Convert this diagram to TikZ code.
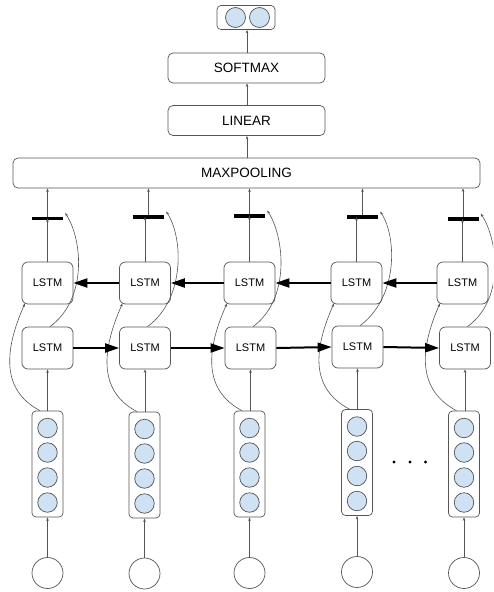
\documentclass[tikz,border=0pt]{standalone}
\usepackage{fontspec}
\setmainfont{Liberation Sans}
\usetikzlibrary{arrows.meta}
\definecolor{ln}{HTML}{555555}
\definecolor{cfill}{HTML}{CFE2F3}
\begin{document}
\begin{tikzpicture}[x=1pt,y=-1pt,
  lstm/.style={draw=ln, rounded corners=6pt, line width=0.7pt, minimum width=51pt, minimum height=42pt, inner sep=0pt, font=\fontsize{11}{13}\selectfont},
  layer/.style={draw=ln, rounded corners=5pt, line width=0.7pt, minimum height=30pt, inner sep=0pt, font=\fontsize{13.5}{15}\selectfont},
  vecbox/.style={draw=ln, rounded corners=4pt, line width=0.7pt, minimum width=31pt, minimum height=106pt, inner sep=0pt},
  unit/.style={circle, draw=ln, fill=cfill, line width=0.7pt, minimum size=19.5pt, inner sep=0pt},
  inp/.style={circle, draw=ln, line width=0.7pt, minimum size=31pt, inner sep=0pt},
  barnode/.style={fill=black, minimum width=31pt, minimum height=3.5pt, inner sep=0pt},
  thin arrow/.style={draw=ln, line width=0.6pt, -{Stealth[length=3.5pt,width=2.6pt]}},
  thick arrow/.style={draw=black, line width=2pt, -{Triangle[length=14pt,width=9pt]}},
  dotnode/.style={circle, fill=black, minimum size=3.2pt, inner sep=0pt}]
\useasboundingbox (0,0) rectangle (493,592);
\clip (0,0) rectangle (493,592);
\fill[white] (0,0) rectangle (493,592);

% top layers
\node[draw=ln, rounded corners=4pt, line width=0.7pt, minimum width=58pt, minimum height=24pt, inner sep=0pt] (out) at (246,17.5) {};
\node[unit, minimum size=20pt] (o1) at (235.5,17.5) {};
\node[unit, minimum size=20pt] (o2) at (259.5,17.5) {};
\node[layer, minimum width=157pt] (soft) at (246.5,68) {SOFTMAX};
\node[layer, minimum width=157pt] (lin) at (246.5,120.5) {LINEAR};
\node[layer, minimum width=467pt] (mp) at (246.5,173) {MAXPOOLING};
\draw[thin arrow] ([xshift=0.5pt]soft.north) -- ([xshift=0.5pt]soft.north |- out.south);
\draw[thin arrow] ([xshift=0.5pt]lin.north) -- ([xshift=0.5pt]lin.north |- soft.south);
\draw[thin arrow] ([xshift=0.5pt]mp.north) -- ([xshift=0.5pt]mp.north |- lin.south);

% columns
\foreach \i/\tx/\bx/\bxx/\by/\byy/\vx/\vy/\iy in {
  1/47.5/47.5/47.5/218.5/348/47.5/464/573,
  2/145/145/148.5/217/348/144.5/465/573.5,
  3/249.5/250.5/249.5/216/348/249.5/464/573,
  4/356.5/357.5/362.5/217/347/357/462.5/572,
  5/462.5/465/463/219/348/464/464/573}{
  \node[lstm] (t\i) at (\tx,283) {LSTM};
  \node[lstm] (b\i) at (\bx,\byy) {LSTM};
  \node[barnode] (bar\i) at (\bxx,\by) {};
  \node[vecbox] (v\i) at (\vx,\vy) {};
  \node[unit] (u\i a) at (\vx,\vy-36) {};
  \node[unit] (u\i b) at (\vx,\vy-11.5) {};
  \node[unit] (u\i c) at (\vx,\vy+13.5) {};
  \node[unit] (u\i d) at (\vx,\vy+38.5) {};
  \node[inp] (in\i) at (\vx,\iy) {};
  % input to vector
  \draw[thin arrow] (in\i.north) -- (in\i.north |- v\i.south);
  % vector to forward LSTM
  \draw[thin arrow] (v\i.north -| b\i.south) -- (b\i.south);
  % vector to backward LSTM (curve)
  \draw[thin arrow] ([xshift=-7.5pt]v\i.north) .. controls +(-40,-21) and +(-20,45) .. ([xshift=-22.5pt,yshift=1pt]t\i.south);
  % backward LSTM to bar
  \draw[thin arrow] (t\i.north) -- ([yshift=2pt]t\i.north |- bar\i.south);
  % forward LSTM to bar (curve)
  \draw[thin arrow] ([xshift=2.5pt]b\i.north) .. controls +(38,-28) and +(17,26) .. ([xshift=2pt,yshift=5.5pt]bar\i.east);
  % bar to maxpool
  \draw[thin arrow] (bar\i.north) -- (bar\i.north |- mp.south);
}

% recurrent arrows
\draw[thick arrow] (b1.east) -- (b2.west);
\draw[thick arrow] (b2.east) -- (b3.west);
\draw[thick arrow] (b3.east) -- (b4.west);
\draw[thick arrow] (b4.east) -- (b5.west);
\draw[thick arrow] (t2.west) -- (t1.east);
\draw[thick arrow] (t3.west) -- (t2.east);
\draw[thick arrow] (t4.west) -- (t3.east);
\draw[thick arrow] (t5.west) -- (t4.east);

% ellipsis
\node[dotnode] (d1) at (394,462) {};
\node[dotnode] (d2) at (410,462) {};
\node[dotnode] (d3) at (425.5,462) {};
\end{tikzpicture}
\end{document}
